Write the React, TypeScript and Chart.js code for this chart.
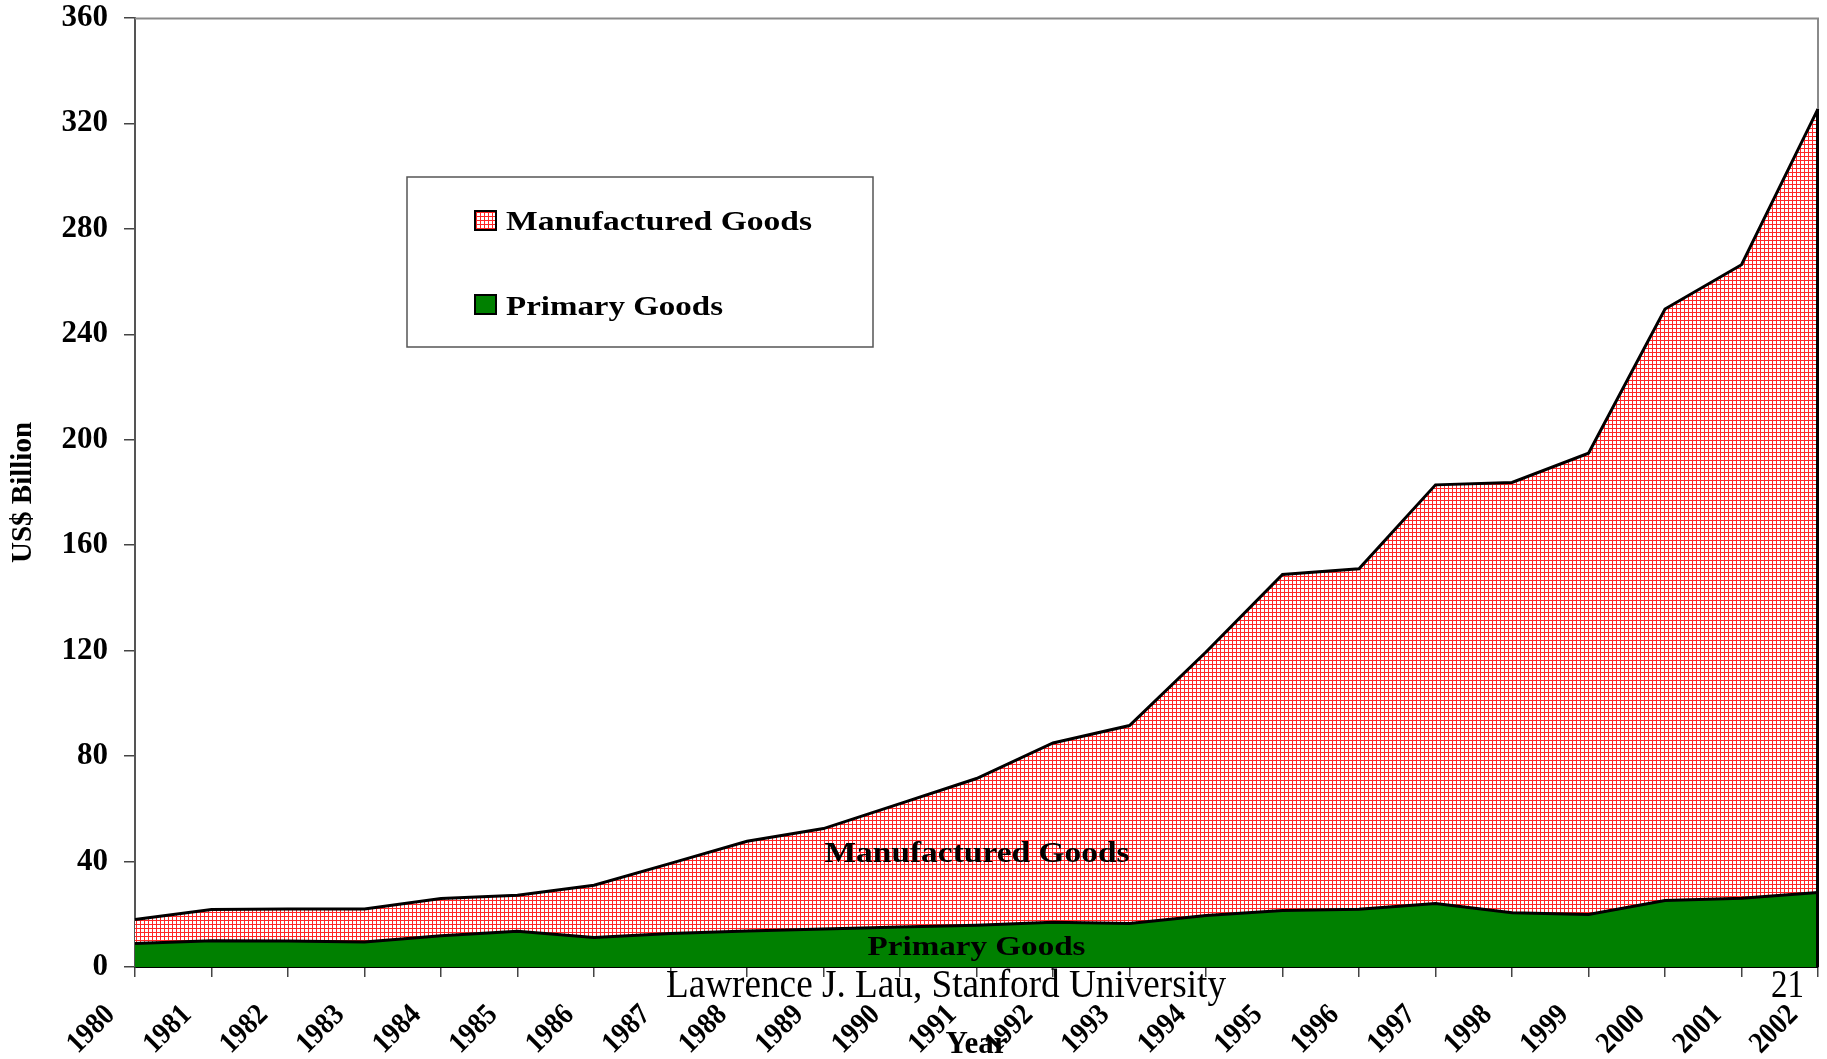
import React, { useEffect, useRef } from "react";
import { Chart, registerables } from "chart.js";

Chart.register(...registerables);

const years = [
  "1980", "1981", "1982", "1983", "1984", "1985", "1986", "1987", "1988", "1989", "1990", "1991",
  "1992", "1993", "1994", "1995", "1996", "1997", "1998", "1999", "2000", "2001", "2002",
];

const primaryGoods = [
  8.9, 10.0, 9.9, 9.5, 11.9, 13.6, 11.2, 12.7, 13.7, 14.4, 15.2, 15.8,
  17.0, 16.5, 19.5, 21.4, 21.9, 24.1, 20.6, 19.9, 25.2, 26.1, 28.3,
];

const manufacturedGoods = [
  9.1, 11.8, 12.1, 12.5, 14.1, 13.6, 19.8, 26.6, 34.0, 38.1, 46.8, 55.7,
  68.0, 75.1, 100.0, 127.5, 129.2, 158.8, 163.2, 175.0, 224.4, 240.3, 297.2,
];

const seriesNames = ["Primary Goods", "Manufactured Goods"];
const legendOrder = ["Manufactured Goods", "Primary Goods"];
const yAxisTitle = "US$ Billion";
const xAxisTitle = "Year";
const yMin = 0;
const yMax = 360;
const yStep = 40;
const footerText = "Lawrence J. Lau, Stanford University";
const pageNumber = "21";
const inChartLabelValues = [40, 4.4];

const SERIF = "'Liberation Serif', 'Times New Roman', serif";
const GREEN = "#008000";

function makeGridPattern(ctx: CanvasRenderingContext2D): CanvasPattern | string {
  const c = document.createElement("canvas");
  c.width = 4;
  c.height = 4;
  const g = c.getContext("2d");
  if (!g) return "#ffb0b0";
  g.fillStyle = "#ffffff";
  g.fillRect(0, 0, 4, 4);
  g.fillStyle = "#ff2626";
  g.fillRect(0, 0, 4, 1);
  g.fillRect(0, 0, 1, 4);
  return ctx.createPattern(c, "repeat") || "#ffb0b0";
}

function drawFitText(
  ctx: CanvasRenderingContext2D,
  text: string,
  x: number,
  y: number,
  width: number,
  font: string
) {
  ctx.save();
  ctx.font = font;
  const w = ctx.measureText(text).width;
  const s = width / w;
  ctx.translate(x, y);
  ctx.scale(s, 1);
  ctx.textAlign = "left";
  ctx.textBaseline = "alphabetic";
  ctx.fillStyle = "#000";
  ctx.fillText(text, 0, 0);
  ctx.restore();
}

const decorPlugin = {
  id: "decor",
  afterDatasetsDraw(chart: any) {
    const { ctx, chartArea } = chart;
    const xs = chart.scales.x;
    const last = years.length - 1;
    const meta = chart.getDatasetMeta(1);
    const pt = meta.data[last];
    const xr = xs.getPixelForValue(last);
    ctx.save();
    // plot frame (top and right)
    ctx.strokeStyle = "#8a8a8a";
    ctx.lineWidth = 2;
    ctx.beginPath();
    ctx.moveTo(chartArea.left, chartArea.top + 0.5);
    ctx.lineTo(chartArea.right, chartArea.top + 0.5);
    ctx.lineTo(chartArea.right, chartArea.bottom);
    ctx.stroke();
    // black edge of the area at the right end
    if (pt) {
      ctx.strokeStyle = "#000";
      ctx.lineWidth = 3;
      ctx.beginPath();
      ctx.moveTo(xr - 0.5, pt.y);
      ctx.lineTo(xr - 0.5, chartArea.bottom);
      ctx.stroke();
    }
    ctx.restore();

    // in-chart labels
    const ys = chart.scales.y;
    const cx = (chartArea.left + chartArea.right) / 2;
    drawFitText(ctx, "Manufactured Goods", cx - 152, ys.getPixelForValue(inChartLabelValues[0]), 305, `bold 30px ${SERIF}`);
    drawFitText(ctx, "Primary Goods", cx - 109, ys.getPixelForValue(inChartLabelValues[1]), 218, `bold 28px ${SERIF}`);
  },
  afterDraw(chart: any) {
    const { ctx, chartArea } = chart;
    const xs = chart.scales.x;

    // x tick labels, rotated 45 degrees
    ctx.save();
    ctx.font = `bold 30px ${SERIF}`;
    ctx.fillStyle = "#000";
    ctx.textAlign = "right";
    ctx.textBaseline = "alphabetic";
    years.forEach((label, i) => {
      const px = xs.getPixelForValue(i);
      ctx.save();
      ctx.translate(px - 19, chartArea.bottom + 49);
      ctx.rotate(-Math.PI / 4);
      ctx.scale(0.9, 1);
      ctx.fillText(label, 0, 0);
      ctx.restore();
    });
    ctx.restore();

    // x axis title
    ctx.save();
    ctx.font = `bold 31px ${SERIF}`;
    ctx.fillStyle = "#000";
    ctx.textAlign = "center";
    ctx.textBaseline = "alphabetic";
    ctx.fillText(xAxisTitle, (chartArea.left + chartArea.right) / 2, chartArea.bottom + 86);
    ctx.restore();

    // legend box
    ctx.save();
    ctx.fillStyle = "#fff";
    ctx.fillRect(407, 177, 466, 170);
    ctx.strokeStyle = "#555";
    ctx.lineWidth = 1.5;
    ctx.strokeRect(407, 177, 466, 170);
    const rows = [
      { name: legendOrder[0], top: 211, base: 230, width: 306 },
      { name: legendOrder[1], top: 295, base: 314.5, width: 217 },
    ];
    rows.forEach((r) => {
      const idx = seriesNames.indexOf(r.name);
      const ds = chart.data.datasets[idx];
      ctx.fillStyle = ds.backgroundColor;
      ctx.fillRect(475, r.top, 21, 19);
      ctx.strokeStyle = "#000";
      ctx.lineWidth = 2;
      ctx.strokeRect(475, r.top, 21, 19);
      drawFitText(ctx, r.name, 506, r.base, r.width, `bold 28px ${SERIF}`);
    });
    ctx.restore();

    // slide footer
    drawFitText(ctx, footerText, 666, 997, 560, `40px ${SERIF}`);
    drawFitText(ctx, pageNumber, 1771, 997, 33, `40px ${SERIF}`);
  },
};

export default function App() {
  const canvasRef = useRef<HTMLCanvasElement | null>(null);

  useEffect(() => {
    const canvas = canvasRef.current;
    if (!canvas) return;
    const ctx = canvas.getContext("2d");
    if (!ctx) return;
    const pattern = makeGridPattern(ctx);

    const chart = new Chart(ctx, {
      type: "line",
      data: {
        labels: years,
        datasets: [
          {
            label: seriesNames[0],
            data: primaryGoods,
            backgroundColor: GREEN,
            borderColor: "#000",
            borderWidth: 3,
            fill: "origin",
            pointRadius: 0,
            tension: 0,
          },
          {
            label: seriesNames[1],
            data: manufacturedGoods,
            backgroundColor: pattern as any,
            borderColor: "#000",
            borderWidth: 3,
            fill: "-1",
            pointRadius: 0,
            tension: 0,
          },
        ],
      },
      options: {
        responsive: false,
        animation: false,
        devicePixelRatio: 1,
        layout: { autoPadding: false, padding: { left: 0, top: 18, right: 9, bottom: 0 } },
        plugins: {
          legend: { display: false },
          tooltip: { enabled: false },
        },
        scales: {
          x: {
            type: "category",
            offset: false,
            z: 1,
            grid: {
              display: true,
              drawOnChartArea: false,
              drawTicks: true,
              tickLength: 10,
              color: "#444",
              lineWidth: 1.5,
              offset: false,
            },
            border: { display: true, color: "#000", width: 2 },
            ticks: {
              display: false,
              autoSkip: false,
              maxRotation: 0,
              minRotation: 0,
            },
            title: { display: false, text: xAxisTitle },
            afterFit: (scale: any) => {
              scale.height = 92;
              scale.paddingLeft = 0;
              scale.paddingRight = 0;
            },
          },
          y: {
            stacked: true,
            min: yMin,
            max: yMax,
            z: 1,
            grid: {
              display: true,
              drawOnChartArea: false,
              drawTicks: true,
              tickLength: 11,
              color: "#444",
              lineWidth: 1.5,
            },
            border: { display: true, color: "#555", width: 2 },
            ticks: {
              stepSize: yStep,
              padding: 16,
              color: "#000",
              font: { family: SERIF, size: 31, weight: "bold", lineHeight: 1 },
            },
            title: {
              display: true,
              text: yAxisTitle,
              color: "#000",
              padding: { top: 6, bottom: 0 },
              font: { family: SERIF, size: 29, weight: "bold" },
            },
            afterFit: (scale: any) => {
              scale.width = 135;
              scale.paddingTop = 0;
              scale.paddingBottom = 0;
            },
          },
        },
      },
      plugins: [decorPlugin],
    });

    return () => {
      chart.destroy();
    };
  }, []);

  return (
    <div style={{ position: "absolute", left: 0, top: 0, width: 1827, height: 1059, background: "#fff" }}>
      <canvas ref={canvasRef} width={1827} height={1059} style={{ display: "block" }} />
    </div>
  );
}
